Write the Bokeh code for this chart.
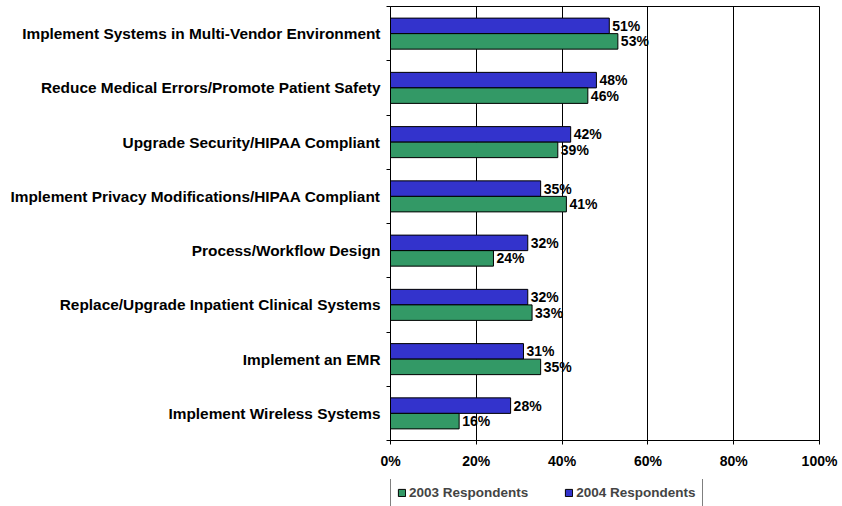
from bokeh.plotting import figure
from bokeh.layouts import column
from bokeh.models import (ColumnDataSource, Range1d, LinearAxis,
                          FixedTicker, CustomJSTickFormatter, Legend, LegendItem)
from bokeh.core.properties import value
from bokeh.embed import file_html
from bokeh.resources import INLINE

categories = [
    "Implement Systems in Multi-Vendor Environment",
    "Reduce Medical Errors/Promote Patient Safety",
    "Upgrade Security/HIPAA Compliant",
    "Implement Privacy Modifications/HIPAA Compliant",
    "Process/Workflow Design",
    "Replace/Upgrade Inpatient Clinical Systems",
    "Implement an EMR",
    "Implement Wireless Systems",
]
resp_2003 = [53, 46, 39, 41, 24, 33, 35, 16]
resp_2004 = [51, 48, 42, 35, 32, 32, 31, 28]
x_ticks = [0, 20, 40, 60, 80, 100]
x_tick_labels = ["0%", "20%", "40%", "60%", "80%", "100%"]
series_names = ["2003 Respondents", "2004 Respondents"]

FONT = "Liberation Sans"
GREEN = "#339966"
BLUE = "#3333CC"

n = len(categories)
bh = 0.286
centers = [n - i - 0.5 for i in range(n)]  # first category at top

src = ColumnDataSource(dict(
    y04=[c + bh / 2 for c in centers],
    y03=[c - bh / 2 for c in centers],
    v2003=resp_2003,
    v2004=resp_2004,
    t2003=[f"{v}%" for v in resp_2003],
    t2004=[f"{v}%" for v in resp_2004],
))

p = figure(width=842, height=479, output_backend="svg", toolbar_location=None,
           x_range=Range1d(0, 100), y_range=Range1d(0, n),
           y_axis_location=None, min_border_left=390, min_border_right=23,
           min_border_top=6, min_border_bottom=39)

p.outline_line_color = "black"
p.outline_line_width = 1
p.background_fill_color = "white"
p.border_fill_color = "white"

r04 = p.hbar(y="y04", right="v2004", left=0, height=bh,
             source=src, fill_color=BLUE, line_color="black", line_width=1)
r03 = p.hbar(y="y03", right="v2003", left=0, height=bh,
             source=src, fill_color=GREEN, line_color="black", line_width=1)

for col in ("2004", "2003"):
    p.text(x="v" + col, y="y" + col[2:], text="t" + col, source=src,
           x_offset=3, text_baseline="middle", text_align="left",
           text_font=value(FONT), text_font_style="bold", text_font_size="14px",
           text_color="black")

# x axis
xa = p.xaxis[0]
xa.ticker = FixedTicker(ticks=x_ticks)
xa.major_label_overrides = {t: l for t, l in zip(x_ticks, x_tick_labels)}
xa.major_label_text_font = FONT
xa.major_label_text_font_style = "bold"
xa.major_label_text_font_size = "14px"
xa.major_label_text_color = "black"
xa.major_tick_out = 4
xa.major_tick_in = 0
xa.minor_tick_line_color = None
xa.axis_line_color = "black"
xa.major_tick_line_color = "black"
xa.major_label_standoff = 8

p.xgrid.ticker = FixedTicker(ticks=x_ticks[1:-1])
p.xgrid.grid_line_color = "black"
p.xgrid.grid_line_width = 1
p.ygrid.grid_line_color = None

# y axis: boundary ticks (no labels)
tick_axis = LinearAxis(ticker=FixedTicker(ticks=list(range(n + 1))),
                       formatter=CustomJSTickFormatter(code="return ''"),
                       major_tick_out=4, major_tick_in=0, minor_tick_line_color=None,
                       major_label_standoff=0, axis_line_color="black", major_tick_line_color="black")
p.add_layout(tick_axis, "left")

# y axis: category labels at band centres
label_axis = LinearAxis(ticker=FixedTicker(ticks=centers),
                        formatter=CustomJSTickFormatter(args=dict(labels=categories, n=n),
                                                        code="return labels[n - 1 - Math.floor(tick)]"),
                        axis_line_color=None, major_tick_line_color=None,
                        minor_tick_line_color=None, major_label_standoff=0,
                        major_label_text_font=FONT, major_label_text_font_style="bold",
                        major_label_text_font_size="15.4px", major_label_text_color="black")
p.add_layout(label_axis, "left")

# legend strip (separate small figure; its frame is aligned with the main plot frame).
# Its bar renderers use the same data but lie outside the strip's view, so only the
# legend swatches show.
q = figure(width=842, height=27, output_backend="svg", toolbar_location=None,
           x_range=Range1d(0, 100), y_range=Range1d(100, 101),
           x_axis_location=None, y_axis_location=None,
           min_border_left=0, min_border_right=0, min_border_top=0, min_border_bottom=0)
q.outline_line_color = None
q.xgrid.grid_line_color = None
q.ygrid.grid_line_color = None
q.background_fill_color = "white"
q.border_fill_color = "white"
l03 = q.hbar(y="y03", right="v2003", left=0, height=bh, source=src,
             fill_color=GREEN, line_color="black")
l04 = q.hbar(y="y04", right="v2004", left=0, height=bh, source=src,
             fill_color=BLUE, line_color="black")

legend = Legend(items=[LegendItem(label=series_names[0], renderers=[l03]),
                       LegendItem(label=series_names[1], renderers=[l04])],
                orientation="horizontal", location=(0, -1),
                glyph_width=9, glyph_height=9, label_standoff=3, spacing=36,
                padding=6, margin=0, label_height=14,
                label_text_font=FONT, label_text_font_style="bold", label_text_font_size="13.5px",
                border_line_color="black", border_line_width=1,
                background_fill_color="white", background_fill_alpha=1)
q.add_layout(legend, "center")

layout = column(p, q, spacing=0)
open("out.html", "w").write(file_html(layout, INLINE))
